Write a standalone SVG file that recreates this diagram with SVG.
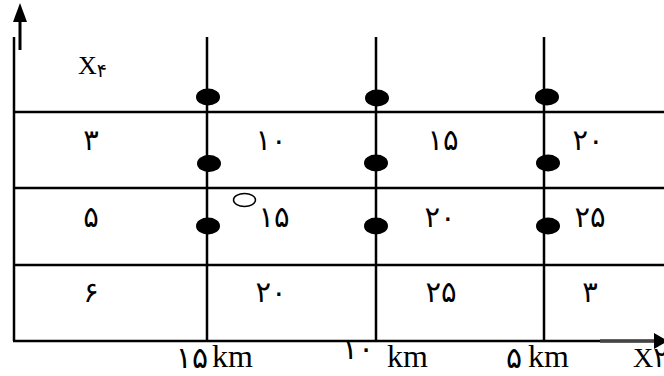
<svg xmlns="http://www.w3.org/2000/svg" width="664" height="376" viewBox="0 0 664 376">
<style>
.g{stroke:#000;stroke-width:2.5;fill:none}
.ax{stroke:#000;stroke-width:3;fill:none}
.dot{fill:#000}
.t{font-family:"Liberation Serif","DejaVu Sans",serif;fill:#000}
.c{font-size:29px;text-anchor:middle;letter-spacing:-2px}
.b{font-size:30px;letter-spacing:-2px}
.k{font-size:32px}
</style>
<rect width="664" height="376" fill="#fff"/>
<g id="connectors">
<line class="g" x1="14" y1="37" x2="14" y2="341"/>
<line class="g" x1="207" y1="37" x2="207" y2="341"/>
<line class="g" x1="376" y1="37" x2="376" y2="341"/>
<line class="g" x1="544" y1="37" x2="544" y2="341"/>
<line class="g" x1="13" y1="112" x2="664" y2="112"/>
<line class="g" x1="13" y1="188" x2="664" y2="188"/>
<line class="g" x1="13" y1="265" x2="664" y2="265"/>
<line class="g" x1="13" y1="341" x2="664" y2="341"/>
<line class="ax" x1="20" y1="50" x2="20" y2="18"/>
<polygon points="20,3 13,22 27,22" fill="#000"/>
<line x1="600" y1="341" x2="656" y2="341" stroke="#444" stroke-width="3.5"/>
<polygon points="668,341 654,333 654,349" fill="#000"/>
</g>
<g id="dots">
<ellipse class="dot" cx="208" cy="97" rx="12" ry="8.5"/>
<ellipse class="dot" cx="377" cy="98" rx="12" ry="8.5"/>
<ellipse class="dot" cx="547" cy="97" rx="12" ry="8.5"/>
<ellipse class="dot" cx="209" cy="163.5" rx="12" ry="8.5"/>
<ellipse class="dot" cx="376" cy="163" rx="12" ry="8.5"/>
<ellipse class="dot" cx="548" cy="163" rx="12" ry="8.5"/>
<ellipse class="dot" cx="208" cy="226" rx="12" ry="8.5"/>
<ellipse class="dot" cx="376" cy="226" rx="12" ry="8.5"/>
<ellipse class="dot" cx="548" cy="226" rx="12" ry="8.5"/>
<ellipse cx="244.5" cy="200" rx="11" ry="6.5" fill="none" stroke="#000" stroke-width="1.5"/>
</g>
<g id="labels">
<text class="t" font-size="26" x="78" y="74">X<tspan font-size="19" dy="3">۴</tspan></text>
<text class="t c" x="91" y="150">۳</text>
<text class="t c" x="271" y="150">۱۰</text>
<text class="t c" x="443" y="150">۱۵</text>
<text class="t c" x="588" y="150">۲۰</text>
<text class="t c" x="91" y="227">۵</text>
<text class="t c" x="274" y="227">۱۵</text>
<text class="t c" x="440" y="227">۲۰</text>
<text class="t c" x="590" y="227">۲۵</text>
<text class="t c" x="91" y="302">۶</text>
<text class="t c" x="271" y="302">۲۰</text>
<text class="t c" x="441" y="302">۲۵</text>
<text class="t c" x="590" y="302">۳</text>
<text class="t b" x="208" y="368" text-anchor="end">۱۵</text>
<text class="t k" x="212" y="367">km</text>
<text class="t b" x="374" y="359" text-anchor="end">۱۰</text>
<text class="t k" x="387" y="367">km</text>
<text class="t b" x="522" y="368" text-anchor="end">۵</text>
<text class="t k" x="528" y="367">km</text>
<text class="t" font-size="28" x="633" y="367">X۲</text>
</g>
</svg>
